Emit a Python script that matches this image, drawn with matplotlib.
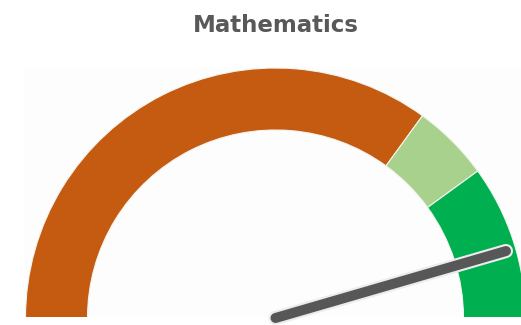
import matplotlib
matplotlib.use('Agg')
import matplotlib.pyplot as plt
import matplotlib.patheffects as pe
from matplotlib.patches import Wedge
import numpy as np

title = 'Mathematics'
band_edges = [0, 70, 80, 100]
band_colors = ['#C55A11', '#A9D18E', '#00B050']
needle_value = 91
v_min, v_max = 0, 100


def value_to_angle(v):
    # 0 at the left (180 deg), max at the right (0 deg)
    return 180.0 - 180.0 * (v - v_min) / (v_max - v_min)


def main():
    fig = plt.figure(figsize=(5.21, 3.25), dpi=100)
    fig.patch.set_facecolor('white')

    # gauge area: pixel box x 24..521, y 67..317 (from top), centre at (275.5, 318), R = 250 px
    R = 250.0
    cx, cy = 275.5, 318.0
    x0, x1, ytop, ybot = 24, 521, 67, 317
    ax = fig.add_axes([x0 / 521, (325 - ybot) / 325, (x1 - x0) / 521, (ybot - ytop) / 325])
    ax.set_xlim((x0 - cx) / R, (x1 - cx) / R)
    ax.set_ylim((cy - ybot) / R, (cy - ytop) / R)
    ax.set_facecolor('#fdfdfd')
    for s in ax.spines.values():
        s.set_visible(False)
    ax.set_xticks([])
    ax.set_yticks([])

    inner = 188.0 / R
    for lo, hi, col in zip(band_edges[:-1], band_edges[1:], band_colors):
        w = Wedge((0, 0), 1.0, value_to_angle(hi), value_to_angle(lo), width=1.0 - inner,
                  facecolor=col, edgecolor='#f4f4ee', linewidth=0.8)
        ax.add_patch(w)

    a = np.deg2rad(value_to_angle(needle_value))
    L = 0.96
    ax.plot([0, L * np.cos(a)], [0, L * np.sin(a)], color='#575757', linewidth=7.2,
            solid_capstyle='round', clip_on=False,
            path_effects=[pe.Stroke(linewidth=10.2, foreground='#ececec'), pe.Normal()])

    fig.text(276 / 521, 1 - 25.5 / 325, title, ha='center', va='center',
             fontsize=16.5, fontweight='bold', color='#595959', family='DejaVu Sans')

    fig.savefig('out.png', dpi=100, facecolor='white')


if __name__ == "__main__":
    main()
